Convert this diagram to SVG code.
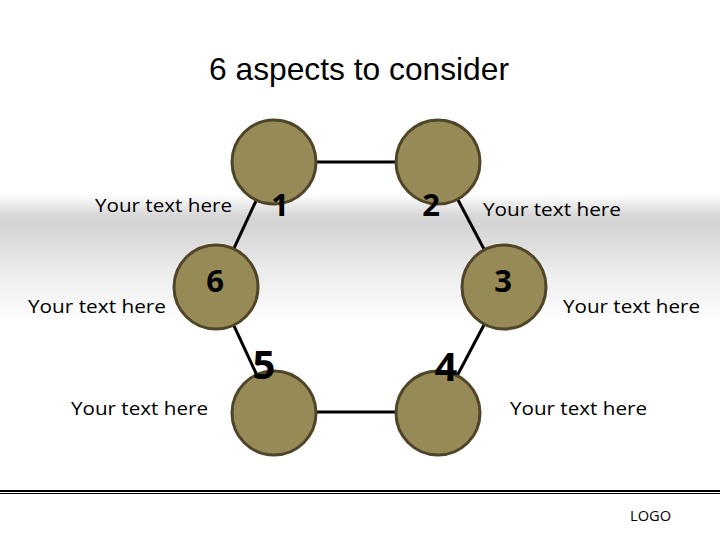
<svg xmlns="http://www.w3.org/2000/svg" width="720" height="540" viewBox="0 0 720 540">
  <defs>
    <linearGradient id="band" x1="0" y1="0" x2="0" y2="1">
      <stop offset="0" stop-color="#ffffff"/>
      <stop offset="0.17" stop-color="#d6d6d6"/>
      <stop offset="0.25" stop-color="#d4d4d4"/>
      <stop offset="0.6" stop-color="#ececec"/>
      <stop offset="1" stop-color="#ffffff"/>
    </linearGradient>
  </defs>
  <style>
    .node { fill: #968a56; stroke: #4f4529; stroke-width: 3; }
    .edge { stroke: #000000; stroke-width: 3; fill: none; }
    .num { font-family: "Open Sans", "Liberation Sans", sans-serif; font-weight: bold; font-size: 31px; fill: #000000; }
    .big { font-size: 40px; }
    .lbl { font-family: "Open Sans", "Liberation Sans", sans-serif; font-size: 19px; fill: #000000; }
    .title { font-family: "Liberation Sans", Arial, sans-serif; font-size: 32px; fill: #000000; }
  </style>
  <rect x="0" y="0" width="720" height="540" fill="#ffffff"/>
  <rect x="0" y="194" width="720" height="130" fill="url(#band)"/>

  <text class="title" x="209" y="80" textLength="300" lengthAdjust="spacingAndGlyphs">6 aspects to consider</text>

  <g id="connectors">
    <line class="edge" x1="274" y1="162" x2="438" y2="162"/>
    <line class="edge" x1="438" y1="162" x2="504" y2="287"/>
    <line class="edge" x1="504" y1="287" x2="438" y2="412"/>
    <line class="edge" x1="438" y1="412" x2="274" y2="412"/>
    <line class="edge" x1="274" y1="412" x2="216" y2="287"/>
    <line class="edge" x1="216" y1="287" x2="274" y2="162"/>
  </g>

  <g id="node1">
    <circle class="node" cx="274" cy="162" r="42"/>
    <text class="num" x="280" y="216" text-anchor="middle">1</text>
    <text class="lbl" x="95" y="212" textLength="137" lengthAdjust="spacingAndGlyphs">Your text here</text>
  </g>
  <g id="node2">
    <circle class="node" cx="438" cy="162" r="42"/>
    <text class="num" x="431" y="216" text-anchor="middle">2</text>
    <text class="lbl" x="483" y="216" textLength="138" lengthAdjust="spacingAndGlyphs">Your text here</text>
  </g>
  <g id="node3">
    <circle class="node" cx="504" cy="287" r="42"/>
    <text class="num" x="503" y="292" text-anchor="middle">3</text>
    <text class="lbl" x="563" y="313" textLength="137" lengthAdjust="spacingAndGlyphs">Your text here</text>
  </g>
  <g id="node4">
    <circle class="node" cx="438" cy="413" r="42"/>
    <text class="num big" x="446" y="381" text-anchor="middle">4</text>
    <text class="lbl" x="510" y="415" textLength="137" lengthAdjust="spacingAndGlyphs">Your text here</text>
  </g>
  <g id="node5">
    <circle class="node" cx="274" cy="413" r="42"/>
    <text class="num big" x="264" y="379" text-anchor="middle">5</text>
    <text class="lbl" x="71" y="415" textLength="137" lengthAdjust="spacingAndGlyphs">Your text here</text>
  </g>
  <g id="node6">
    <circle class="node" cx="216" cy="287" r="42"/>
    <text class="num" x="215" y="292" text-anchor="middle">6</text>
    <text class="lbl" x="28" y="313" textLength="138" lengthAdjust="spacingAndGlyphs">Your text here</text>
  </g>

  <g id="footer">
    <line x1="0" y1="491" x2="720" y2="491" stroke="#000000" stroke-width="2"/>
    <line x1="0" y1="493.5" x2="720" y2="493.5" stroke="#000000" stroke-width="1"/>
    <text class="lbl" x="630" y="521" style="font-size:14px" textLength="41" lengthAdjust="spacingAndGlyphs">LOGO</text>
  </g>
</svg>
